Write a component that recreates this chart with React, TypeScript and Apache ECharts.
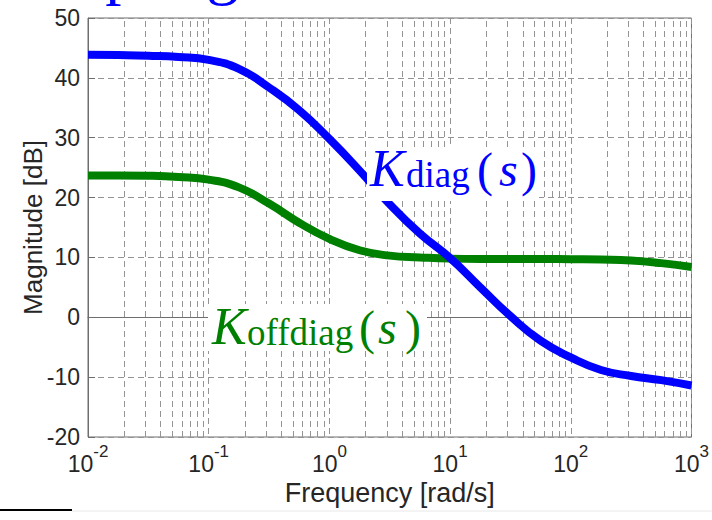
import React, { useEffect, useRef } from "react";
import * as echarts from "echarts";

const frequencies = [0.01, 0.0178, 0.0316, 0.0562, 0.1, 0.178, 0.316, 0.562, 1, 1.78, 3.16, 5.62, 10, 17.8, 31.6, 56.2, 100, 178, 316, 562, 1000];
// |K_diag(s)| in dB
const kDiagDb = [43.85, 43.8, 43.7, 43.5, 43.0, 41.5, 38.4, 34.6, 29.8, 24.5, 18.9, 14.0, 9.9, 5.0, 0.2, -3.9, -6.7, -8.8, -9.8, -10.5, -11.4];
// |K_offdiag(s)| in dB
const kOffdiagDb = [23.7, 23.7, 23.65, 23.45, 23.0, 21.7, 19.0, 15.8, 13.1, 11.2, 10.3, 10.0, 9.8, 9.75, 9.75, 9.75, 9.7, 9.65, 9.5, 9.05, 8.4];
// axis ticks
const xDecadeExponents = [-2, -1, 0, 1, 2, 3];
const yTicks = [-20, -10, 0, 10, 20, 30, 40, 50];
const minorMultipliers = [2, 3, 4, 5, 6, 7, 8, 9];

const sans = '"Liberation Sans", Arial, Helvetica, sans-serif';
const serif = '"Liberation Serif", "DejaVu Serif", serif';

export default function App() {
  const ref = useRef<HTMLDivElement>(null);
  useEffect(() => {
    if (!ref.current) return;
    const chart = echarts.init(ref.current, null, { renderer: "svg" });

    const minorGrid: number[] = [];
    for (let i = 0; i < xDecadeExponents.length - 1; i++) {
      const base = Math.pow(10, xDecadeExponents[i]);
      minorMultipliers.forEach((m) => minorGrid.push(+(m * base).toPrecision(3)));
    }

    const gridLine = { type: [6, 4] as any, color: "#949494", width: 1 };

    const txt = (x: number, y: number, text: string, font: string, fill: string) => ({
      type: "text",
      z: 11,
      x,
      y,
      style: { text, font, fill, align: "left", verticalAlign: "middle" },
    });

    const blue = "#0000ff";
    const green = "#008000";

    const option: any = {
      animation: false,
      backgroundColor: "#ffffff",
      grid: {
        left: 88,
        right: 18,
        top: 18,
        bottom: 83,
        show: true,
        borderColor: "#6e6e6e",
        borderWidth: 1,
        backgroundColor: "transparent",
      },
      xAxis: {
        type: "log",
        logBase: 10,
        min: Math.pow(10, xDecadeExponents[0]),
        max: Math.pow(10, xDecadeExponents[xDecadeExponents.length - 1]),
        axisLine: { show: true, lineStyle: { color: "#6e6e6e", width: 1 } },
        axisTick: { show: false },
        splitLine: { show: true, lineStyle: gridLine },
        axisLabel: {
          showMinLabel: true,
          showMaxLabel: true,
          margin: 6,
          formatter: (v: number) => `{b|10}{s|${Math.round(Math.log10(v))}}`,
          rich: {
            b: { fontSize: 23, fontFamily: sans, color: "#262626", lineHeight: 32, verticalAlign: "bottom" },
            s: { fontSize: 17, fontFamily: sans, color: "#262626", lineHeight: 17, verticalAlign: "top" },
          },
        },
        name: "Frequency [rad/s]",
        nameLocation: "middle",
        nameGap: 41,
        nameTextStyle: { fontSize: 27, fontFamily: sans, color: "#262626" },
      },
      yAxis: {
        type: "value",
        min: yTicks[0],
        max: yTicks[yTicks.length - 1],
        interval: 10,
        axisLine: { show: true, lineStyle: { color: "#6e6e6e", width: 1 } },
        axisTick: { show: true, inside: true, length: 7, lineStyle: { color: "#6e6e6e" } },
        splitLine: { show: true, lineStyle: gridLine },
        axisLabel: { fontSize: 23, fontFamily: sans, color: "#262626", margin: 8 },
        name: "Magnitude [dB]",
        nameLocation: "middle",
        nameGap: 42,
        nameMoveOverlap: false,
        nameTextStyle: { fontSize: 26, fontFamily: sans, color: "#262626" },
      },
      series: [
        {
          type: "line",
          name: "K_offdiag",
          data: frequencies.map((f, i) => [f, kOffdiagDb[i]]),
          symbol: "none",
          showSymbol: false,
          smooth: 0.5,
          z: 3,
          lineStyle: { color: green, width: 8 },
          markLine: {
            z: 1,
            silent: true,
            symbol: "none",
            label: { show: false },
            lineStyle: gridLine,
            emphasis: { disabled: true },
            data: minorGrid.map((v) => ({ xAxis: v })),
          },
        },
        {
          type: "line",
          name: "K_diag",
          data: frequencies.map((f, i) => [f, kDiagDb[i]]),
          symbol: "none",
          showSymbol: false,
          smooth: 0.5,
          z: 4,
          lineStyle: { color: blue, width: 8 },
        },
      ],
      graphic: [
        // cut-off title at top of the slide
        {
          type: "text", x: -3, y: -30, z: 10,
          style: { text: "Coupling", font: `65px ${serif}`, fill: blue, align: "left", verticalAlign: "middle" },
        },
        // K_diag(s) label
        { type: "rect", z: 10, shape: { x: 367, y: 147, width: 172, height: 54 }, style: { fill: "#ffffff" } },
        txt(370, 168, "K", `italic 52px ${serif}`, blue),
        txt(406, 174.5, "diag", `37px ${serif}`, blue),
        txt(477, 169, "(", `48px ${serif}`, blue),
        txt(499, 169, "s", `italic 48px ${serif}`, blue),
        txt(521, 169, ")", `48px ${serif}`, blue),
        // K_offdiag(s) label
        { type: "rect", z: 10, shape: { x: 208, y: 304, width: 219, height: 47 }, style: { fill: "#ffffff" } },
        txt(212, 326, "K", `italic 52px ${serif}`, green),
        txt(247, 332.5, "offdiag", `37px ${serif}`, green),
        txt(359, 327, "(", `48px ${serif}`, green),
        txt(378, 327, "s", `italic 48px ${serif}`, green),
        txt(405, 327, ")", `48px ${serif}`, green),
        // footer rules
        { type: "line", z: 10, shape: { x1: 0, y1: 510, x2: 72, y2: 510 }, style: { stroke: "#000000", lineWidth: 2 } },
        { type: "line", z: 10, shape: { x1: 72, y1: 511, x2: 712, y2: 511 }, style: { stroke: "#e8e8e8", lineWidth: 1 } },
      ],
    };

    chart.setOption(option);
    return () => chart.dispose();
  }, []);

  return (
    <div
      ref={ref}
      style={{ position: "absolute", left: 0, top: 0, width: 712, height: 520, background: "#ffffff" }}
    />
  );
}
